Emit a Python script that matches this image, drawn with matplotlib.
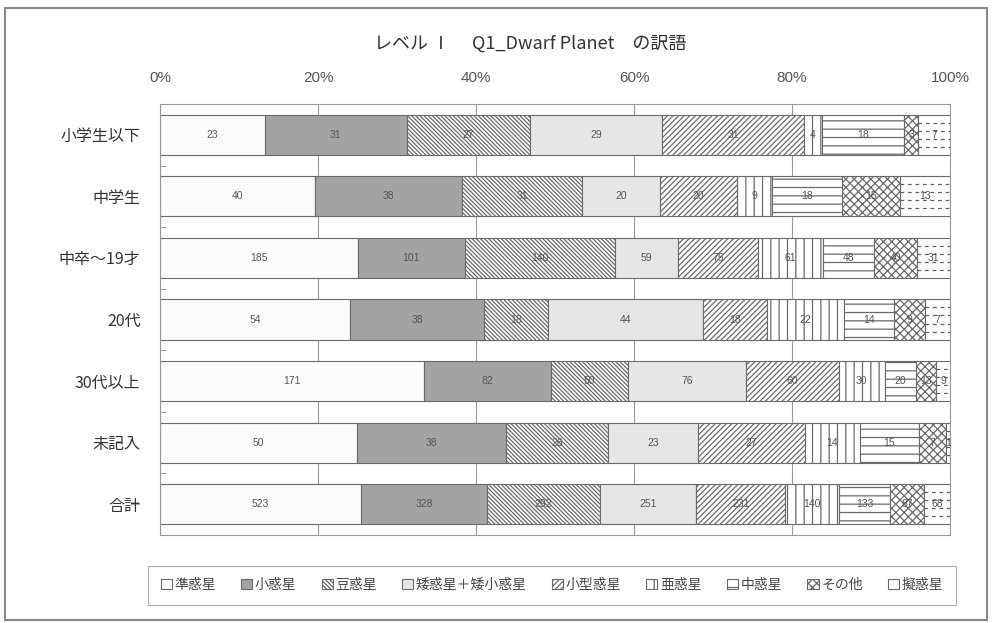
import matplotlib.pyplot as plt
from matplotlib.patches import Rectangle

plt.rcParams['font.family'] = ['Noto Sans CJK JP', 'DejaVu Sans']
plt.rcParams['hatch.linewidth'] = 0.9

# 回答区分ごとの人数
groups = ['小学生以下', '中学生', '中卒〜19才', '20代', '30代以上', '未記入', '合計']
answers = ['準惑星', '小惑星', '豆惑星', '矮惑星＋矮小惑星', '小型惑星', '亜惑星', '中惑星', 'その他', '擬惑星']

jun = [23, 40, 185, 54, 171, 50, 523]
shou = [31, 38, 101, 38, 82, 38, 328]
mame = [27, 31, 140, 18, 50, 26, 292]
waisei = [29, 20, 59, 44, 76, 23, 251]
kogata = [31, 20, 75, 18, 60, 27, 231]
a_wakusei = [4, 9, 61, 22, 30, 14, 140]
chuu = [18, 18, 48, 14, 20, 15, 133]
sonota = [3, 15, 40, 9, 13, 7, 87]
gi = [7, 13, 31, 7, 9, 1, 68]

series = [jun, shou, mame, waisei, kogata, a_wakusei, chuu, sonota, gi]

# 塗りとハッチ
faces = ['#fbfbfb', '#a3a3a3', 'white', '#e6e6e6', 'white', 'white', 'white', 'white', 'white']
hatches = [None, None, '\\' * 8, None, '/' * 6, '||', '--', 'xxxx', None]

totals = [sum(s[i] for s in series) for i in range(len(groups))]

fig = plt.figure(figsize=(9.92, 6.23), dpi=100)
ax = fig.add_axes([160 / 992, 1 - 535 / 623, 790 / 992, 431 / 623])

ypos = list(range(len(groups)))
left = [0.0] * len(groups)
containers = []
for name, vals, fc, h in zip(answers, series, faces, hatches):
    pct = [v / t * 100 for v, t in zip(vals, totals)]
    bars = ax.barh(ypos, pct, left=left, height=0.65, color=fc, hatch=h,
                   edgecolor='#6a6a6a', linewidth=0.8, label=name, zorder=2)
    containers.append(bars)
    for b, v in zip(bars, vals):
        ax.text(b.get_x() + b.get_width() / 2, b.get_y() + b.get_height() / 2, str(v),
                ha='center', va='center', fontsize=7.5, color='#555555',
                family=['Liberation Sans', 'DejaVu Sans'], zorder=4)
    left = [l + p for l, p in zip(left, pct)]

# 擬惑星は破線模様
for b in containers[-1]:
    y0 = b.get_y()
    hgt = b.get_height()
    for k in range(1, 5):
        ln = ax.hlines(y0 + hgt * k / 5, b.get_x(), b.get_x() + b.get_width(),
                       colors='#606060', linestyles=(0, (3, 3)), linewidth=0.9, zorder=3)
        ln.set_clip_path(b)

ax.set_xlim(0, 100)
ax.set_ylim(len(groups) - 0.5, -0.5)
ax.xaxis.tick_top()
ax.set_xticks([0, 20, 40, 60, 80, 100])
ax.set_xticklabels(['0%', '20%', '40%', '60%', '80%', '100%'],
                   family=['Liberation Sans', 'DejaVu Sans'])
ax.tick_params(axis='x', length=0, labelsize=11, labelcolor='#555555', pad=14)
ax.set_yticks(ypos)
ax.set_yticklabels(groups)
ax.tick_params(axis='y', length=0, labelsize=11.5, labelcolor='#333333', pad=14)
ax.set_yticks([i + 0.5 for i in range(len(groups) - 1)], minor=True)
ax.tick_params(axis='y', which='minor', direction='in', length=4, color='#888888')
ax.grid(axis='x', color='#999999', linewidth=0.8, zorder=0)
ax.set_axisbelow(True)
for s in ax.spines.values():
    s.set_color('#999999')
    s.set_linewidth(0.8)

fig.text(530 / 992, 1 - 44 / 623, 'レベル Ⅰ　 Q1_Dwarf Planet　の訳語',
         ha='center', va='center', fontsize=13, color='#333333')

leg = fig.legend(handles=containers, labels=answers, loc='center',
                 bbox_to_anchor=(552 / 992, 1 - 585 / 623), ncol=9, fontsize=10,
                 frameon=True, fancybox=False, edgecolor='#999999',
                 handlelength=0.8, handleheight=0.8, handletextpad=0.2,
                 columnspacing=1.8, borderpad=0.9, labelcolor='#444444')
leg.get_frame().set_linewidth(0.8)

# 外枠
fig.patches.append(Rectangle((5 / 992, 3 / 623), 982 / 992, 612 / 623,
                             transform=fig.transFigure, fill=False,
                             edgecolor='#888888', linewidth=1.5))

fig.savefig('out.png', dpi=100)
